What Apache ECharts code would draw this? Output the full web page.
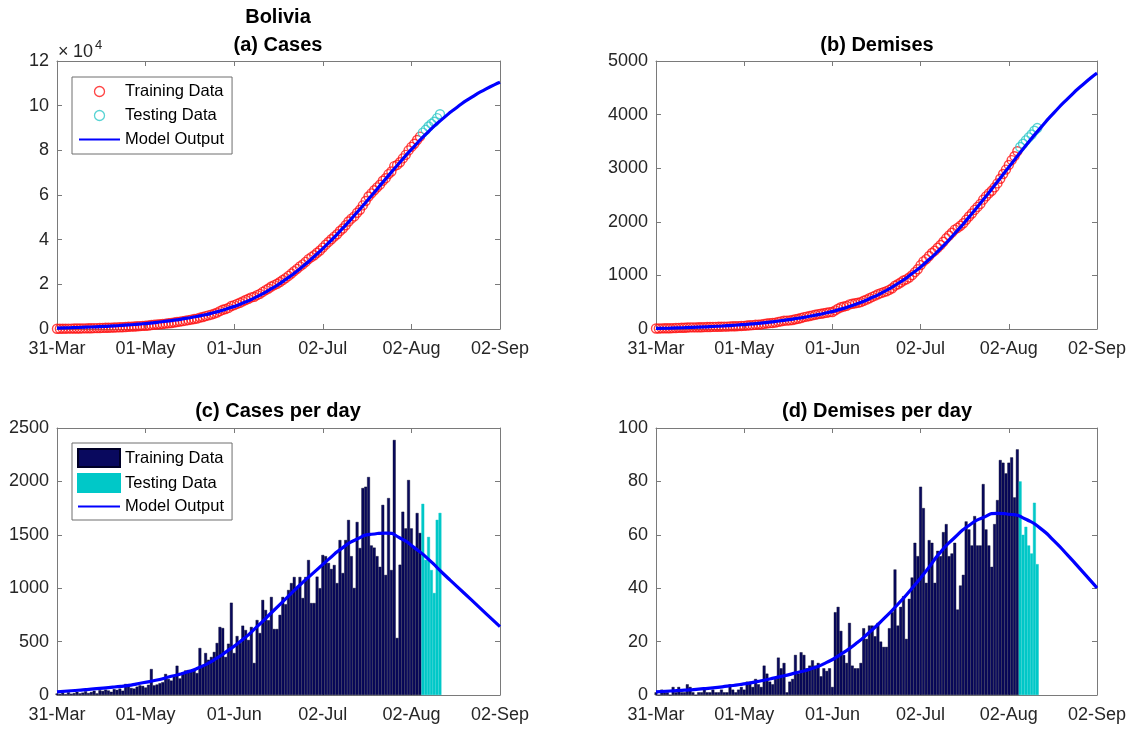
<!DOCTYPE html>
<html><head><meta charset="utf-8">
<script src="https://cdn.jsdelivr.net/npm/echarts@6/dist/echarts.min.js"></script>
<style>html,body{margin:0;padding:0;background:#fff}#c{width:1134px;height:731px}</style>
</head><body><div id="c"></div>
<script>
// ---------- data ----------
const tickLabels = ['31-Mar','01-May','01-Jun','02-Jul','02-Aug','02-Sep'];
const testStartDay = 128;

const casesPerDayTrain = [14,10,20,8,25,12,18,30,15,22,
35,18,28,40,15,45,38,50,42,30,
55,48,60,40,103,100,65,60,78,90,
85,70,95,243,90,98,110,120,197,150,
135,180,274,155,210,230,234,228,240,205,
440,280,393,330,356,403,487,637,627,356,
480,864,393,552,487,649,608,515,637,300,
702,580,890,796,700,918,618,618,750,918,
850,983,1048,1105,1000,1105,908,1105,1264,861,
861,1108,1000,1311,1300,1236,1180,1217,1048,1451,
1142,1451,1639,1300,1002,1620,1376,1938,1950,2041,
1400,1380,1300,1200,1780,1124,1844,1170,2388,534,
1220,1716,1560,2013,1560,1386,1704,1517];
const casesPerDayTest = [1790,1265,1480,1170,955,1640,1705];

const casesTotalTrain = [107,117,137,145,170,182,200,230,245,267,
302,320,348,388,403,448,486,536,578,608,
663,711,771,811,914,1014,1079,1139,1217,1307,
1392,1462,1557,1800,1890,1988,2098,2218,2415,2565,
2700,2880,3154,3309,3519,3749,3983,4211,4451,4656,
5096,5376,5769,6099,6455,6858,7345,7982,8609,8965,
9445,10309,10702,11254,11741,12390,12998,13513,14150,14450,
15152,15732,16622,17418,18118,19036,19654,20272,21022,21940,
22790,23773,24821,25926,26926,28031,28939,30044,31308,32169,
33030,34138,35138,36449,37749,38985,40165,41382,42430,43881,
45023,46474,48113,49413,50415,52035,53411,55349,57299,59340,
60740,62120,63420,64620,66400,67524,69368,70538,72926,73460,
74680,76396,77956,79969,81529,82915,84619,86136];
const casesTotalTest = [87926,89191,90671,91841,92796,94436,96141];

const deathsPerDayTrain = [1,0,2,1,1,0,3,1,3,1,
1,4,3,1,0,1,1,2,1,1,
2,1,1,2,1,1,4,2,1,2,
3,2,5,5,3,6,4,3,11,8,
5,4,6,14,10,12,1,5,6,15,
8,16,15,10,11,13,11,12,7,10,
9,10,3,31,33,24,15,12,27,11,
10,10,12,25,21,26,26,22,27,20,
18,18,25,31,47,26,33,37,21,36,
44,57,52,78,70,42,58,57,42,54,
52,61,64,52,53,57,32,41,45,65,
62,56,67,56,56,79,62,56,48,64,
73,88,87,83,87,89,74,92];
const deathsPerDayTest = [80,60,63,56,53,72,49];

const deathsTotalTrain = [10,10,12,13,14,14,17,18,21,22,
23,27,30,31,31,32,33,35,36,37,
39,40,41,43,44,45,49,51,52,54,
57,59,64,69,72,78,82,85,96,104,
109,113,119,133,143,155,156,161,167,182,
190,206,221,231,242,255,266,278,285,295,
304,314,317,348,381,405,420,432,459,470,
480,490,502,527,548,574,600,622,649,669,
687,705,730,761,808,834,867,904,925,961,
1005,1062,1114,1192,1262,1304,1362,1419,1461,1515,
1567,1628,1692,1744,1797,1854,1886,1927,1972,2037,
2099,2155,2222,2278,2334,2413,2475,2531,2579,2643,
2716,2804,2891,2974,3061,3150,3224,3316];
const deathsTotalTest = [3396,3456,3519,3575,3628,3700,3749];

const modelDays = [0,5,10,15,20,25,30,35,40,45,50,55,60,65,70,75,80,85,90,95,100,105,110,115,120,125,130,135,140,145,150,155];
const casesModelTotal = [400,575,800,1080,1420,1830,2340,2980,3770,4730,5900,7380,9250,11600,14500,18030,22200,27030,32480,38530,45150,52250,59660,67210,74670,81800,88420,94200,99300,103700,107400,110500];
const deathsModelTotal = [10,17,25,35,47,62,80,102,129,162,201,247,302,371,457,563,693,849,1034,1250,1500,1781,2087,2412,2748,3088,3423,3743,4041,4313,4558,4773];
const casesModelDaily = [30,40,50,62,75,90,115,140,175,210,260,330,420,520,640,770,900,1030,1150,1270,1380,1460,1505,1515,1470,1380,1270,1140,1015,890,765,640];
const deathsModelDaily = [1.2,1.5,1.8,2.2,2.7,3.3,4.0,4.9,6.0,7.2,8.5,10,12.2,15.3,19,23.5,28.5,34,40,46.5,53.5,59,63.5,66.5,68,67.6,65.8,62.5,57.6,52,46.1,40.1];

const legendNames = {a_train:'Training Data', a_test:'Testing Data', a_model:'Model Output',
                     c_train:'Training Data', c_test:'Testing Data', c_model:'Model Output'};

// ---------- helpers ----------
const FONT = "'Liberation Sans', Arial, Helvetica, sans-serif";
const BOX = '#7a7a7a';
const LBL = '#262626';
const RED = '#ff1414', TCYAN = '#2ec8c8';
const pairsTrain = arr => arr.map((v, i) => [i, v]);
const pairsTest = arr => arr.map((v, i) => [testStartDay + i, v]);
const pairsModel = arr => modelDays.map((d, i) => [d, arr[i]]);

const grids = [
  {left: 57, top: 61, width: 443, height: 268},
  {left: 656, top: 61, width: 441, height: 268},
  {left: 57, top: 428, width: 443, height: 267},
  {left: 656, top: 428, width: 441, height: 267}
];
const yRanges = [
  {max: 120000, interval: 20000, fmt: v => String(v / 10000)},
  {max: 5000, interval: 1000, fmt: v => String(v)},
  {max: 2500, interval: 500, fmt: v => String(v)},
  {max: 100, interval: 20, fmt: v => String(v)}
];

const xAxes = [], yAxes = [];
grids.forEach((g, gi) => {
  ['bottom', 'top'].forEach(pos => {
    xAxes.push({
      type: 'value', gridIndex: gi, position: pos, min: 0, max: 155, interval: 31,
      axisLine: {show: true, onZero: false, lineStyle: {color: BOX, width: 1}},
      axisTick: {show: true, inside: true, length: 5, lineStyle: {color: BOX}},
      axisLabel: {show: pos === 'bottom', margin: 11, color: LBL, fontSize: 18, fontFamily: FONT,
                  formatter: v => tickLabels[Math.round(v / 31)]},
      splitLine: {show: false}
    });
  });
  ['left', 'right'].forEach(pos => {
    yAxes.push({
      type: 'value', gridIndex: gi, position: pos, min: 0, max: yRanges[gi].max, interval: yRanges[gi].interval,
      axisLine: {show: true, onZero: false, lineStyle: {color: BOX, width: 1}},
      axisTick: {show: true, inside: true, length: 5, lineStyle: {color: BOX}},
      axisLabel: {show: pos === 'left', margin: 8, color: LBL, fontSize: 18, fontFamily: FONT,
                  formatter: yRanges[gi].fmt},
      splitLine: {show: false}
    });
  });
});

const circle = (name, gi, data, color) => ({
  name, type: 'scatter', xAxisIndex: gi * 2, yAxisIndex: gi * 2, data,
  symbol: 'circle', symbolSize: 9,
  itemStyle: {color: 'rgba(0,0,0,0)', borderColor: color, borderWidth: 1.4},
  emphasis: {disabled: true}, z: 2
});
const model = (name, gi, data) => ({
  name, type: 'line', xAxisIndex: gi * 2, yAxisIndex: gi * 2, data,
  smooth: 0.7, symbol: 'none', showSymbol: false,
  lineStyle: {color: '#0000ff', width: 3.2}, itemStyle: {color: '#0000ff'},
  emphasis: {disabled: true}, z: 4
});
const bars = (name, gi, data, color, edge) => ({
  name, type: 'bar', xAxisIndex: gi * 2, yAxisIndex: gi * 2, data,
  barWidth: 2.85, barGap: '-100%',
  itemStyle: {color, borderColor: edge, borderWidth: 0.4},
  emphasis: {disabled: true}, z: 2
});

const NAVY = '#09095e', NAVY_EDGE = '#000026', CYAN = '#00c8c8';

const series = [
  circle('a_train', 0, pairsTrain(casesTotalTrain), RED),
  circle('a_test', 0, pairsTest(casesTotalTest), TCYAN),
  model('a_model', 0, pairsModel(casesModelTotal)),
  circle('b_train', 1, pairsTrain(deathsTotalTrain), RED),
  circle('b_test', 1, pairsTest(deathsTotalTest), TCYAN),
  model('b_model', 1, pairsModel(deathsModelTotal)),
  bars('c_train', 2, pairsTrain(casesPerDayTrain), NAVY, NAVY_EDGE),
  bars('c_test', 2, pairsTest(casesPerDayTest), CYAN, CYAN),
  model('c_model', 2, pairsModel(casesModelDaily)),
  bars('d_train', 3, pairsTrain(deathsPerDayTrain), NAVY, NAVY_EDGE),
  bars('d_test', 3, pairsTest(deathsPerDayTest), CYAN, CYAN),
  model('d_model', 3, pairsModel(deathsModelDaily))
];

const hiddenSymbol = {color: 'rgba(0,0,0,0)', borderColor: 'rgba(0,0,0,0)', borderWidth: 0, opacity: 0};
const legendBase = {
  orient: 'vertical', selectedMode: false, backgroundColor: '#fff',
  borderColor: '#6e6e6e', borderWidth: 1, borderRadius: 0,
  formatter: n => legendNames[n], itemWidth: 41,
  textStyle: {fontSize: 16.5, color: '#000', fontFamily: FONT}
};
const legends = [
  Object.assign({}, legendBase, {
    left: 72, top: 77, padding: [6, 8, 6, 6], itemHeight: 10, itemGap: 7,
    data: [
      {name: 'a_train', icon: 'circle', itemStyle: {color: 'rgba(0,0,0,0)', borderColor: RED, borderWidth: 1.3}},
      {name: 'a_test', icon: 'circle', itemStyle: {color: 'rgba(0,0,0,0)', borderColor: TCYAN, borderWidth: 1.3}},
      {name: 'a_model', itemStyle: hiddenSymbol}
    ]
  }),
  Object.assign({}, legendBase, {
    left: 72, top: 443, padding: [5, 8, 5, 5], itemHeight: 18, itemGap: 5, itemWidth: 42,
    data: [
      {name: 'c_train', icon: 'rect'},
      {name: 'c_test', icon: 'rect'},
      {name: 'c_model', itemStyle: hiddenSymbol}
    ]
  })
];

const title = (text, x, y) => ({
  type: 'text', x, y,
  style: {text, fill: '#000', font: "bold 20px 'Liberation Sans', Arial, sans-serif",
          textAlign: 'center', textVerticalAlign: 'middle'}
});
const small = (text, x, y, size) => ({
  type: 'text', x, y,
  style: {text, fill: LBL, font: size + "px 'Liberation Sans', Arial, sans-serif", textVerticalAlign: 'middle'}
});

const graphic = [
  title('Bolivia', 278, 17),
  title('(a) Cases', 278, 45),
  title('(b) Demises', 877, 45),
  title('(c) Cases per day', 278, 411),
  title('(d) Demises per day', 877, 411),
  small('\u00d7', 58, 52, 18),
  small('10', 73, 52, 18),
  small('4', 95, 45, 13)
];

const chart = echarts.init(document.getElementById('c'), null, {renderer: 'canvas'});
chart.setOption({
  animation: false,
  backgroundColor: '#fff',
  grid: grids,
  xAxis: xAxes,
  yAxis: yAxes,
  legend: legends,
  graphic,
  series
});
</script></body></html>
